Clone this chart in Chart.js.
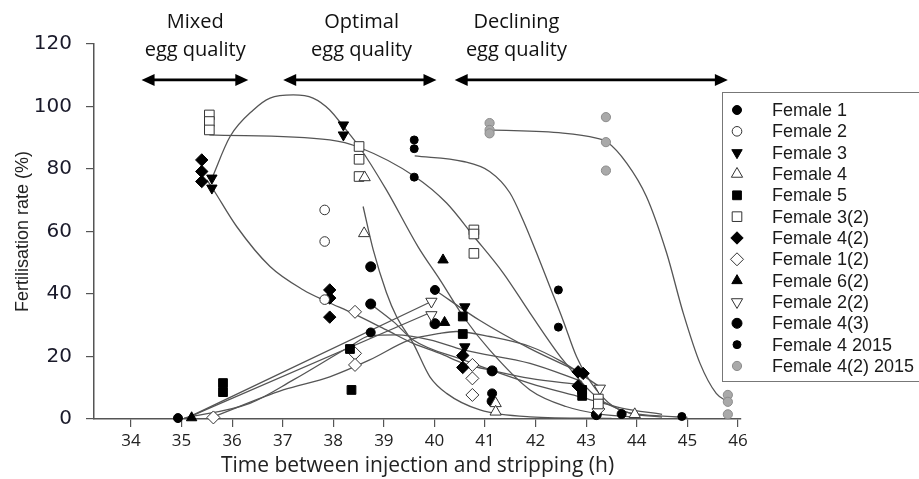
<!DOCTYPE html>
<html>
<head>
<meta charset="utf-8">
<script src="https://cdn.jsdelivr.net/npm/chart.js"></script>
<style>
  html, body { margin: 0; padding: 0; background: #fff; }
</style>
</head>
<body>
<canvas id="chart" width="919" height="479"></canvas>
<script>
// ---- data: [time (h), fertilisation rate (%)] ----
var xTicks = [34, 35, 36, 37, 38, 39, 40, 41, 42, 43, 44, 45, 46];
var yTicks = [0, 20, 40, 60, 80, 100, 120];

var seriesNames = ['Female 1', 'Female 2', 'Female 3', 'Female 4', 'Female 5', 'Female 3(2)',
  'Female 4(2)', 'Female 1(2)', 'Female 6(2)', 'Female 2(2)', 'Female 4(3)', 'Female 4 2015', 'Female 4(2) 2015'];

var female1 = [[34.93, 0.3], [38.74, 27.7], [40.01, 41.3], [41.14, 8.2], [43.7, 1.6]];
var female2 = [[37.83, 66.9], [37.83, 56.8], [37.83, 38.2]];
var female3 = [[35.6, 77.1], [35.6, 73.9], [38.2, 94.1], [38.2, 90.9], [40.6, 35.9], [40.6, 23.1]];
var female4 = [[38.61, 59.4], [38.62, 77.3], [41.21, 5.0], [41.21, 2.3], [43.96, 1.5]];
var female5 = [[35.82, 11.5], [35.82, 8.6], [38.33, 22.4], [38.36, 9.3], [40.56, 32.8], [40.56, 27.2], [42.92, 9.3], [42.92, 7.4]];
var female3b = [[35.55, 97.3], [35.55, 95.2], [35.55, 92.5], [38.51, 87.2], [38.51, 83.1], [38.51, 77.6],
  [40.78, 60.5], [40.78, 59.2], [40.78, 53.0], [43.24, 6.4], [43.24, 4.8]];
var female4b = [[35.4, 82.9], [35.4, 79.2], [35.4, 76.0], [37.93, 41.3], [37.93, 38.7], [37.93, 32.6],
  [40.56, 20.3], [40.56, 16.5], [42.84, 15.1], [42.94, 14.6], [42.84, 10.6]];
var female1b = [[35.63, 0.5], [38.43, 34.3], [38.43, 21.0], [38.43, 17.3], [40.75, 17.3], [40.75, 13.0], [40.75, 7.7], [43.24, 3.2]];
var female6b = [[35.2, 0.4], [40.17, 50.9], [40.2, 30.9]];
var female2b = [[39.94, 37.6], [39.94, 33.3], [43.27, 9.8]];
var female4c = [[38.74, 48.7], [38.74, 36.8], [40.01, 30.5], [41.14, 15.4], [41.14, 5.7], [43.2, 1.4]];
var female4y15 = [[39.6, 89.3], [39.6, 86.5], [39.6, 77.4], [42.45, 41.3], [42.45, 29.4], [44.89, 0.8]];
var female4by15 = [[41.09, 94.7], [41.09, 92.5], [41.09, 91.4], [43.39, 96.6], [43.39, 88.6], [43.39, 79.5], [45.8, 7.7], [45.8, 5.5], [45.8, 1.5]];

var seriesData = [female1, female2, female3, female4, female5, female3b, female4b, female1b, female6b, female2b, female4c, female4y15, female4by15];

// fitted curves
var fitFemale3 = [[35.6, 77], [35.96, 90.4], [36.42, 98.9], [36.75, 102.7], [37.21, 103.7], [37.6, 102.7], [37.93, 98.9],
  [38.2, 93.6], [38.51, 87.2], [39.05, 73.3], [39.68, 55.0], [40.11, 44.5], [40.57, 32.8], [41.09, 22.1], [41.89, 9.3],
  [42.6, 4.0], [43.3, 1.5], [44.0, 0.6]];
var fitFemale3b = [[35.55, 90.9], [37.93, 89.3], [38.53, 86.8], [39.61, 77.6], [40.24, 69.1], [40.78, 58.4], [41.36, 46.7],
  [41.89, 33.9], [42.54, 18.9], [43.2, 7.1], [43.86, 1.9], [44.5, 0.6]];
var fitFemale4y15 = [[39.61, 84.2], [40.57, 82.4], [41.09, 79.2], [41.49, 72.4], [41.75, 63.7], [42.02, 53.1], [42.28, 42.4],
  [42.54, 31.7], [42.81, 19.9], [43.2, 9.3], [43.66, 2.9], [44.45, 1.0], [45.0, 0.5]];
var fitFemale4by15 = [[41.09, 92.5], [42.54, 91.5], [43.2, 89.9], [43.4, 88.8], [43.8, 81.9], [44.19, 71.2], [44.59, 53.1],
  [44.92, 33.8], [45.25, 17.8], [45.57, 8.2], [45.8, 5.5]];
var fitFemale4b = [[35.5, 76.5], [35.59, 74.4], [36.09, 61.6], [36.75, 48.8], [37.41, 41.3], [37.87, 37.6], [38.39, 33.8],
  [39.05, 28.5], [39.58, 24.2], [40.11, 21.0], [40.57, 17.8], [41.23, 15.2], [41.89, 13.0], [42.84, 11.0]];
var fitFemale4 = [[38.59, 68], [38.79, 54.1], [39.05, 40.5], [39.25, 32.8], [39.58, 24.2], [39.91, 13.5], [40.24, 8.2],
  [40.9, 2.9], [41.89, 0.7], [43.5, 0.2]];
var fitFemale4c = [[38.74, 36.8], [39.2, 31], [39.58, 25.3], [40.57, 18.9], [41.89, 11.4], [42.9, 7.0], [43.7, 3.5], [44.5, 1.5]];
var fitFemale1 = [[40.01, 41.3], [40.9, 31.5], [41.89, 22.5], [42.9, 14.8]];
var fitFemale2b = [[35.1, 0.3], [39.94, 37.6]];
var fitFemale6b = [[35.1, 0.3], [39.91, 34.0]];
var fitFemale5 = [[35.05, 0.3], [36.35, 5.0], [37.21, 12.5], [38.33, 23.2], [38.72, 26.6], [39.25, 26.9], [39.91, 25.3],
  [40.57, 22.1], [41.89, 17.8], [42.92, 12.0]];
var fitFemale1b = [[35.63, 0.7], [37.01, 9.3], [37.93, 13.5], [38.72, 18.9], [39.51, 25.3], [40.11, 27.4], [40.43, 28.0],
  [41.09, 26.4], [41.89, 23.2], [42.5, 18.5], [43.25, 10.5]];

var fitCurves = [fitFemale3, fitFemale3b, fitFemale4y15, fitFemale4by15, fitFemale4b, fitFemale4, fitFemale4c,
  fitFemale1, fitFemale2b, fitFemale6b, fitFemale5, fitFemale1b];

// annotation bands across the top
var bandLabels = [['Mixed', 'egg quality'], ['Optimal', 'egg quality'], ['Declining', 'egg quality']];
var bandSpans = [[34.21, 36.32], [37.01, 40.04], [40.40, 45.8]];
var bandTextX = [35.27, 38.56, 41.62];

// ---- styles ----
var BLACK = '#000', OPEN = '#fff', EDGE = '#333';
var markerStyles = [
  { style: 'circle', fill: BLACK, stroke: BLACK, r: 4.5, rot: 0 },
  { style: 'circle', fill: OPEN, stroke: EDGE, r: 4.8, rot: 0 },
  { style: 'triangle', fill: BLACK, stroke: BLACK, r: 6, rot: 180 },
  { style: 'triangle', fill: OPEN, stroke: EDGE, r: 6.5, rot: 0 },
  { style: 'rect', fill: BLACK, stroke: BLACK, r: 6.2, rot: 0 },
  { style: 'rect', fill: OPEN, stroke: EDGE, r: 6.8, rot: 0 },
  { style: 'rectRot', fill: BLACK, stroke: BLACK, r: 6.2, rot: 0 },
  { style: 'rectRot', fill: OPEN, stroke: EDGE, r: 6.5, rot: 0 },
  { style: 'triangle', fill: BLACK, stroke: BLACK, r: 6, rot: 0 },
  { style: 'triangle', fill: OPEN, stroke: EDGE, r: 6.5, rot: 180 },
  { style: 'circle', fill: BLACK, stroke: BLACK, r: 5, rot: 0 },
  { style: 'circle', fill: BLACK, stroke: BLACK, r: 4, rot: 0 },
  { style: 'circle', fill: '#a9a9a9', stroke: '#8c8c8c', r: 4.6, rot: 0 }
];

function toXY(pts) {
  return pts.map(function(p) { return { x: p[0], y: p[1] }; });
}

var datasets = [];
for (var i = 0; i < seriesNames.length; i++) {
  var st = markerStyles[i];
  datasets.push({
    label: seriesNames[i],
    data: toXY(seriesData[i]),
    showLine: false,
    pointStyle: st.style,
    pointRadius: st.r,
    pointRotation: st.rot,
    backgroundColor: st.fill,
    borderColor: st.stroke,
    borderWidth: 1,
    clip: false
  });
}
for (var j = 0; j < fitCurves.length; j++) {
  datasets.push({
    label: 'fit',
    data: toXY(fitCurves[j]),
    showLine: true,
    pointRadius: 0,
    borderColor: '#555',
    borderWidth: 1.3,
    cubicInterpolationMode: 'monotone',
    fill: false,
    clip: false
  });
}

var overlayPlugin = {
  id: 'overlay',
  afterDraw: function(chart) {
    var ctx = chart.ctx, xs = chart.scales.x, ys = chart.scales.y;
    ctx.save();

    // double-headed arrows
    var ay = ys.getPixelForValue(108.5);
    ctx.strokeStyle = '#000';
    ctx.fillStyle = '#000';
    ctx.lineWidth = 2.8;
    bandSpans.forEach(function(s) {
      var x1 = xs.getPixelForValue(s[0]), x2 = xs.getPixelForValue(s[1]);
      ctx.beginPath();
      ctx.moveTo(x1 + 6, ay);
      ctx.lineTo(x2 - 6, ay);
      ctx.stroke();
      ctx.beginPath();
      ctx.moveTo(x1, ay); ctx.lineTo(x1 + 13, ay - 6); ctx.lineTo(x1 + 13, ay + 6); ctx.closePath();
      ctx.fill();
      ctx.beginPath();
      ctx.moveTo(x2, ay); ctx.lineTo(x2 - 13, ay - 6); ctx.lineTo(x2 - 13, ay + 6); ctx.closePath();
      ctx.fill();
    });

    // band labels
    ctx.font = '20px "Open Sans"';
    ctx.fillStyle = '#111';
    ctx.textAlign = 'center';
    ctx.textBaseline = 'middle';
    bandLabels.forEach(function(lines, k) {
      var tx = xs.getPixelForValue(bandTextX[k]);
      ctx.fillText(lines[0], tx, 22);
      ctx.fillText(lines[1], tx, 50);
    });

    // legend box
    ctx.fillStyle = '#fff';
    ctx.fillRect(722.5, 92.5, 210, 289);
    ctx.strokeStyle = '#777';
    ctx.lineWidth = 1;
    ctx.strokeRect(722.5, 92.5, 210, 289);
    ctx.font = '18px "Liberation Sans"';
    ctx.textAlign = 'left';
    for (var k = 0; k < seriesNames.length; k++) {
      var st = markerStyles[k];
      var ly = 110 + k * 21.33;
      ctx.fillStyle = st.fill;
      ctx.strokeStyle = st.stroke;
      ctx.lineWidth = 1;
      if (Chart.helpers && Chart.helpers.drawPoint) {
        Chart.helpers.drawPoint(ctx, { pointStyle: st.style, radius: st.r, rotation: st.rot, borderWidth: 1 }, 737, ly);
      }
      ctx.fillStyle = '#1a1a1a';
      ctx.fillText(seriesNames[k], 772, ly + 1);
    }
    ctx.restore();
  }
};

new Chart(document.getElementById('chart'), {
  type: 'scatter',
  data: { datasets: datasets },
  options: {
    responsive: false,
    animation: false,
    devicePixelRatio: 1,
    layout: { padding: { top: 44, right: 178, left: 0, bottom: 0 } },
    plugins: { legend: { display: false }, tooltip: { enabled: false } },
    scales: {
      x: {
        type: 'linear',
        min: 33.27,
        max: 46.06,
        afterFit: function(s) { s.height = 60; },
        afterBuildTicks: function(s) { s.ticks = xTicks.map(function(v) { return { value: v }; }); },
        border: { color: '#555', width: 1.5 },
        grid: { drawOnChartArea: false, tickLength: 8, color: '#555', lineWidth: 1.2 },
        ticks: { font: { family: 'Open Sans', size: 17 }, color: '#222', padding: 4, maxRotation: 0, autoSkip: false },
        title: { display: true, text: 'Time between injection and stripping (h)', font: { family: 'Open Sans', size: 21 }, color: '#222', padding: 0 }
      },
      y: {
        min: 0,
        max: 120,
        afterFit: function(s) { s.width = 94; },
        afterBuildTicks: function(s) { s.ticks = yTicks.map(function(v) { return { value: v }; }); },
        border: { color: '#555', width: 1.5 },
        grid: { drawOnChartArea: false, tickLength: 8, color: '#555', lineWidth: 1.2 },
        ticks: { font: { family: 'DejaVu Sans', size: 20 }, color: '#1a1a2a', padding: 14 },
        title: { display: true, text: 'Fertilisation rate (%)', font: { family: 'Liberation Sans', size: 18 }, color: '#222', padding: { top: 12, bottom: 0 } }
      }
    }
  },
  plugins: [overlayPlugin]
});
</script>
</body>
</html>
